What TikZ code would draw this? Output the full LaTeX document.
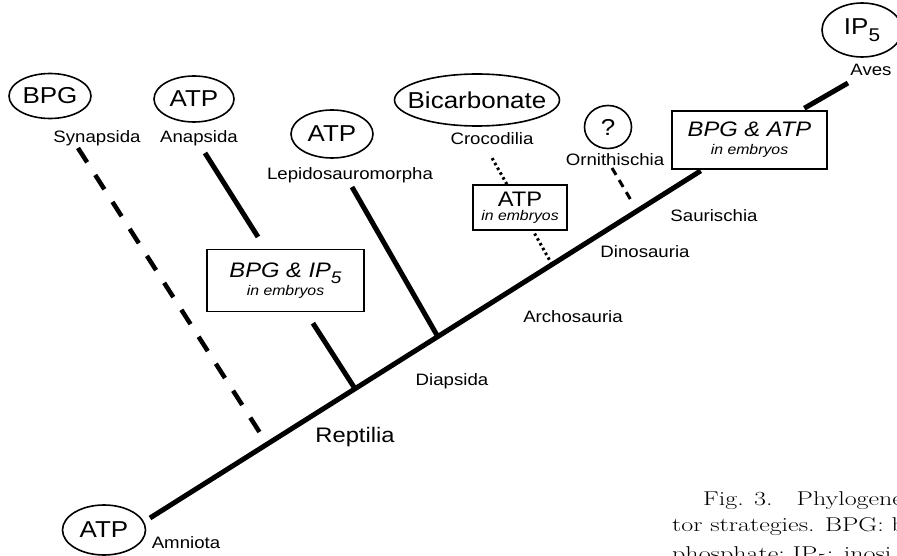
\documentclass[tikz,border=0pt]{standalone}
\usepackage{fontspec}
\usepackage{tikz}
\usetikzlibrary{calc,shapes.geometric}
\newfontfamily\labfont{Liberation Sans}[FakeStretch=1.13]
\newfontfamily\capfont{Latin Modern Roman}[FakeStretch=1.3]
\newcommand{\lowsub}[1]{\raisebox{-0.28em}{\scalebox{0.8}{#1}}}

\tikzset{
  taxon/.style={anchor=base, inner sep=0pt, font=\labfont\fontsize{16.5}{18}\selectfont},
  effector/.style={draw, ellipse, line width=1.6pt, inner sep=0pt, font=\labfont\fontsize{23}{26}\selectfont},
  embryobox/.style={draw, fill=white, line width=1.5pt, align=center, inner sep=0pt, font=\labfont\itshape\fontsize{21}{18}\selectfont},
  trunk/.style={line width=5pt},
  ghost/.style={line width=4.5pt, dash pattern=on 17pt off 15pt},
  hint/.style={line width=3pt, dash pattern=on 8pt off 6pt},
  dotline/.style={line width=3pt, dash pattern=on 2.5pt off 3pt},
  caption/.style={anchor=base west, inner sep=0pt, font=\capfont\fontsize{20}{26}\selectfont}
}

\begin{document}
\begin{tikzpicture}[x=1pt,y=-1pt]
\clip (0,0) rectangle (897,556);

% effector ellipses
\node[effector, minimum width=82pt, minimum height=45pt] (bpg) at (50,96) {\makebox[0pt]{BPG}};
\node[effector, minimum width=80pt, minimum height=46pt] (atpana) at (194,99) {\makebox[0pt]{ATP}};
\node[effector, minimum width=82pt, minimum height=48pt] (atplep) at (332,134) {\makebox[0pt]{ATP}};
\node[effector, minimum width=165pt, minimum height=52pt] (bicarb) at (477,100) {\makebox[0pt]{Bicarbonate}};
\node[effector, minimum width=47pt, minimum height=43pt] (unknown) at (608,127) {\makebox[0pt]{?}};
\node[effector, minimum width=80pt, minimum height=54pt] (ipfive) at (862,30) {\makebox[0pt]{IP\lowsub{5}}};
\node[effector, minimum width=83pt, minimum height=50pt] (atpamn) at (104,530) {\makebox[0pt]{ATP}};

% taxa
\node[taxon] (syn) at (97,143) {Synapsida};
\node[taxon] (ana) at (199,143) {Anapsida};
\node[taxon] (lep) at (350,180) {Lepidosauromorpha};
\node[taxon] (cro) at (492,145) {Crocodilia};
\node[taxon] (orn) at (615,166) {Ornithischia};
\node[taxon] (aves) at (871,76) {Aves};
\node[taxon] (sau) at (714,222) {Saurischia};
\node[taxon] (dino) at (645,258) {Dinosauria};
\node[taxon] (arch) at (573,322) {Archosauria};
\node[taxon] (diap) at (452,385) {Diapsida};
\node[taxon, font=\labfont\fontsize{21}{24}\selectfont] (rep) at (355,442) {Reptilia};
\node[taxon] (amn) at (186,548) {Amniota};

% embryo boxes
\node[embryobox, minimum width=157pt, minimum height=62pt] (bxip) at (285.5,280.5) {BPG \& IP\lowsub{5}\\{\fontsize{14}{18}\selectfont in embryos}};
\node[embryobox, minimum width=94pt, minimum height=45pt, font=\labfont\fontsize{21}{14}\selectfont] (bxatp) at (520,207.5) {ATP\\{\itshape\fontsize{14}{14}\selectfont in embryos}};
\node[embryobox, minimum width=155pt, minimum height=58pt] (bxsa) at (749.5,140) {BPG \& ATP\\{\fontsize{14}{18}\selectfont in embryos}};

% tree
\coordinate (base) at (150,518);
\coordinate (jsyn) at ($(base)!0.1955!(bxsa)$);
\coordinate (jrep) at ($(base)!0.342!(bxsa)$);
\coordinate (jlep) at ($(base)!0.480!(bxsa)$);
\coordinate (jcro) at ($(base)!0.6706!(bxsa)$);
\coordinate (jorn) at ($(base)!0.8127!(bxsa)$);
\coordinate (syntip) at (78,148);
\coordinate (anatip) at (205,153);
\coordinate (leptip) at (352,187);
\coordinate (crotip) at (492,158);
\coordinate (orntip) at (612,168);
\coordinate (avestip) at (848,83);

\draw[trunk, shorten >=2pt] (base) -- (bxsa);
\draw[trunk, shorten <=4pt] (bxsa) -- (avestip);
\draw[ghost, shorten >=9pt] (syntip) -- (jsyn);
\draw[trunk, shorten >=13pt] (jrep) -- (bxip);
\draw[trunk, shorten <=14pt] (bxip) -- (anatip);
\draw[trunk] (jlep) -- (leptip);
\draw[dotline, shorten >=2pt] (jcro) -- (bxatp);
\draw[dotline] (bxatp) -- (crotip);
\draw[hint, shorten >=10pt] (orntip) -- (jorn);

% caption
\node[caption] (cap1) at (703,505) {Fig. 3.\hspace{24pt}Phylogene};
\node[caption] (cap2) at (672,531) {tor strategies. BPG: b};
\node[caption] (cap3) at (672,560) {phosphate; IP\textsubscript{5}: inosi};
\end{tikzpicture}
\end{document}
